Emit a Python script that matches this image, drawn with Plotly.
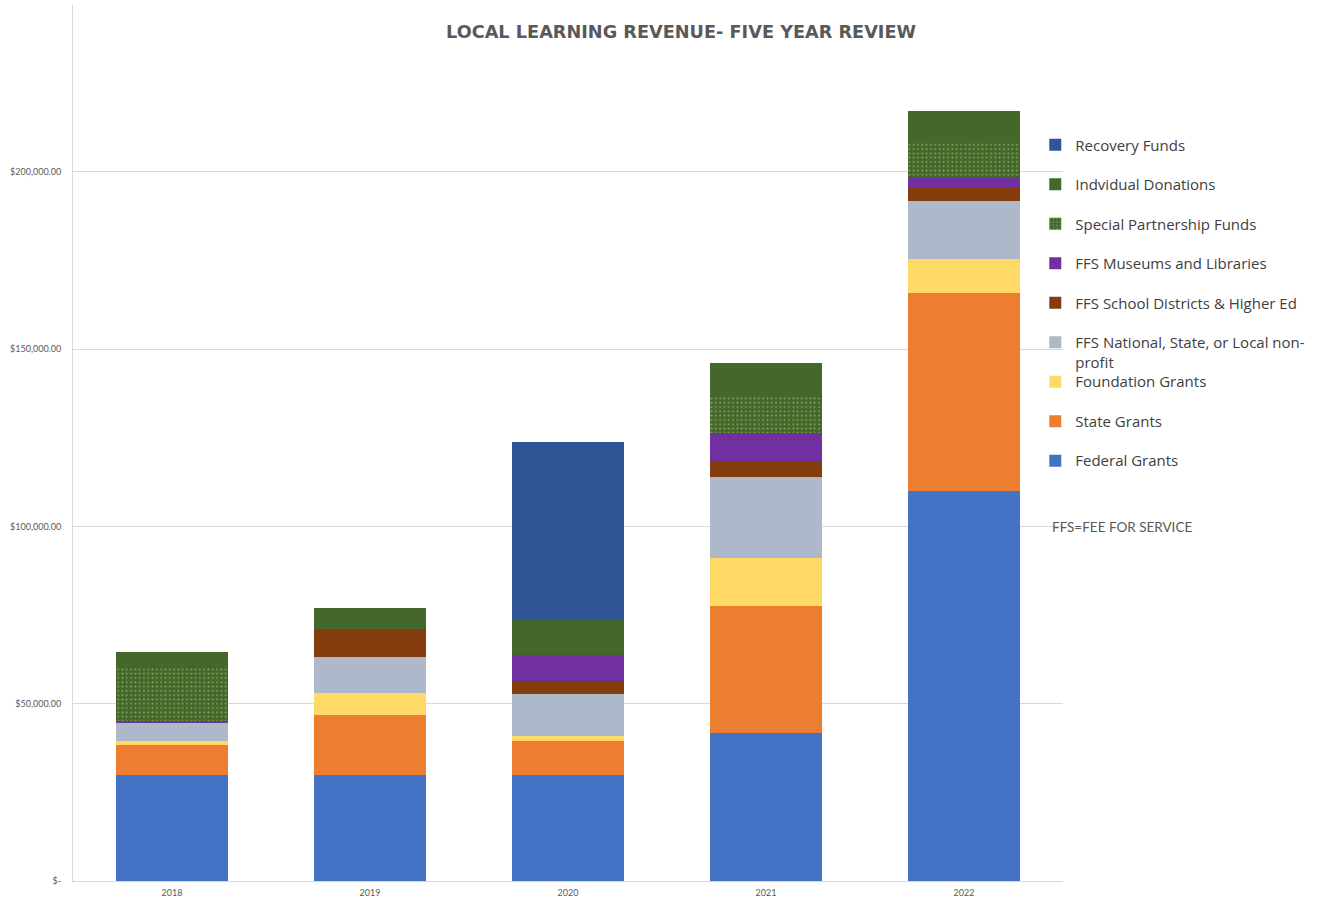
import plotly.graph_objects as go

years = ["2018", "2019", "2020", "2021", "2022"]

federal_grants = [30000, 30000, 30000, 41800, 110000]
state_grants = [8400, 16800, 9500, 35800, 55900]
foundation_grants = [1100, 6100, 1500, 13500, 9500]
ffs_nonprofit = [5000, 10300, 11700, 23000, 16300]
ffs_school_districts = [0, 8000, 3800, 4100, 3800]
ffs_museums = [700, 0, 7200, 8200, 3100]
special_partnership = [15200, 0, 0, 10500, 9800]
individual_donations = [4300, 5900, 10200, 9200, 8900]
recovery_funds = [0, 0, 50000, 0, 0]

y_tick_values = [0, 50000, 100000, 150000, 200000]
y_tick_labels = ["$-", "$50,000.00", "$100,000.00", "$150,000.00", "$200,000.00"]

series = [
    ("Federal Grants", federal_grants, "#4472C4", "legend2"),
    ("State Grants", state_grants, "#ED7D31", "legend2"),
    ("Foundation Grants", foundation_grants, "#FFD966", "legend2"),
    ("FFS National, State, or Local non-<br>profit", ffs_nonprofit, "#ADB9CA", "legend"),
    ("FFS School Districts & Higher Ed", ffs_school_districts, "#843C0C", "legend"),
    ("FFS Museums and Libraries", ffs_museums, "#7030A0", "legend"),
    ("Special Partnership Funds", special_partnership, "#44682B", "legend"),
    ("Indvidual Donations", individual_donations, "#44682B", "legend"),
    ("Recovery Funds", recovery_funds, "#2F5597", "legend"),
]

fig = go.Figure()
n = len(series)
for i, (name, vals, color, lg) in enumerate(series):
    marker = dict(color=color, line=dict(width=0))
    if name == "Special Partnership Funds":
        marker["pattern"] = dict(shape=".", bgcolor="#44682B", fgcolor="#8DAF68",
                                 size=4.3, solidity=0.14, fillmode="replace")
    fig.add_trace(go.Bar(
        x=years, y=vals, name=name, marker=marker, legend=lg,
        legendgroup="g%d" % i, legendrank=(n - i) * 10,
    ))

legend_font = dict(family="Open Sans", size=15, color="#404040")
fig.update_layout(
    barmode="stack",
    bargap=0.43,
    width=1338, height=897,
    margin=dict(l=73, r=275, t=5, b=16),
    paper_bgcolor="white", plot_bgcolor="white",
    title=dict(text="<b>LOCAL LEARNING REVENUE- FIVE YEAR REVIEW</b>",
               x=0.509, xref="container", xanchor="center",
               y=1 - 32 / 897, yref="container", yanchor="middle",
               font=dict(family="DejaVu Sans", size=17.7, color="#595959")),
    legend=dict(x=0.972, xanchor="left", y=0.8591, yanchor="top",
                font=legend_font, traceorder="grouped",
                tracegroupgap=17, valign="top", bgcolor="rgba(0,0,0,0)"),
    legend2=dict(x=0.972, xanchor="left", y=0.5886, yanchor="top",
                 font=legend_font, traceorder="grouped",
                 tracegroupgap=17, valign="top", bgcolor="rgba(0,0,0,0)"),
    annotations=[dict(text="FFS=FEE FOR SERVICE", x=0.987, xref="paper",
                      y=(881 - 527) / 876, yref="paper", xanchor="left",
                      yanchor="middle", showarrow=False,
                      font=dict(family="Lato", size=13.5, color="#595959"))],
)
fig.update_yaxes(range=[0, 247100], tickvals=y_tick_values, ticktext=y_tick_labels,
                 showgrid=True, gridcolor="#D9D9D9", gridwidth=1,
                 showline=True, linecolor="#D9D9D9", linewidth=1,
                 zeroline=False, ticks="", ticklabelstandoff=9, automargin=False,
                 tickfont=dict(family="Lato", size=9, color="#595959"))
fig.update_xaxes(showline=True, linecolor="#D9D9D9", linewidth=1, ticks="",
                 ticklabelstandoff=3, automargin=False,
                 tickfont=dict(family="Lato", size=9, color="#595959"))

fig.write_html("out.html")
